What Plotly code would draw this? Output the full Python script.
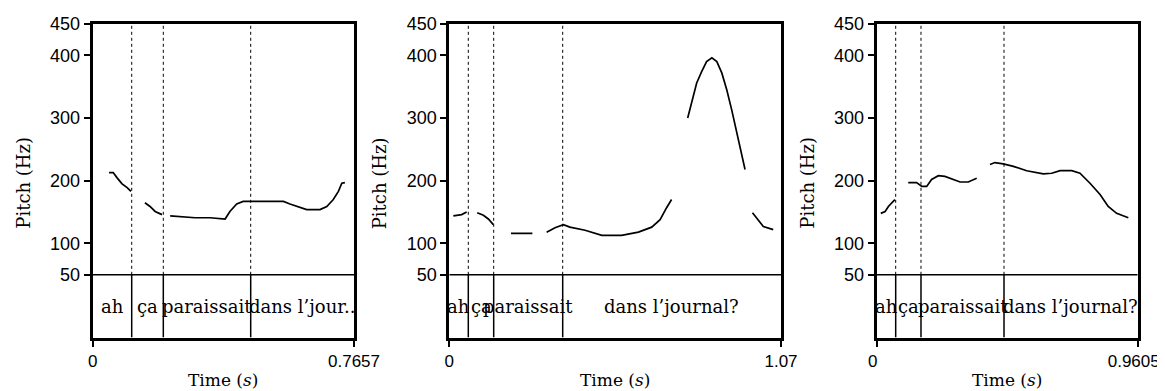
import plotly.graph_objects as go

# ---------------- data ----------------
durations = [0.7657, 1.07, 0.9605]
duration_labels = ["0.7657", "1.07", "0.9605"]

p1_bounds = [0.1143, 0.2069, 0.463]
p2_bounds = [0.0613, 0.1432, 0.3658]
p3_bounds = [0.0699, 0.163, 0.4685]

p1_words = ["ah", "ça", "paraissait", "dans l’jour.."]
p2_words = ["ah", "ça", "paraissait", "dans l’journal?"]
p3_words = ["ah", "ça", "paraissait", "dans l’journal?"]

p1_time = [0.048, 0.060, 0.071, 0.086, 0.101, 0.112, None,
           0.153, 0.168, 0.183, 0.194, 0.203, None,
           0.227, 0.256, 0.300, 0.344, 0.388, 0.402, 0.422, 0.441, 0.461,
           0.559, 0.578, 0.607, 0.627, 0.666, 0.686, 0.705, 0.720, 0.730, 0.739]
p1_pitch = [213, 213, 205, 195, 189, 183, None,
            165, 159, 151, 148, 146, None,
            144, 143, 141, 141, 139, 151, 163, 167, 167,
            167, 163, 157, 154, 154, 159, 170, 183, 196, 197]

p2_time = [0.013, 0.040, 0.056, None,
           0.090, 0.110, 0.126, 0.142, None,
           0.199, 0.268, None,
           0.314, 0.341, 0.368, 0.389, 0.438, 0.492, 0.556, 0.610, 0.653, 0.680, 0.701, 0.717, None,
           0.769, 0.782, 0.798, 0.814, 0.830, 0.847, 0.863, 0.879, 0.895, 0.911, 0.927, 0.943, 0.954, None,
           0.978, 0.997, 1.013, 1.045]
p2_pitch = [144, 146, 150, None,
            149, 145, 139, 130, None,
            116, 116, None,
            118, 125, 130, 126, 121, 113, 113, 118, 126, 138, 157, 170, None,
            300, 324, 356, 374, 390, 396, 390, 372, 345, 313, 279, 241, 218, None,
            149, 138, 127, 122]

p3_time = [0.015, 0.031, 0.043, 0.055, 0.067, None,
           0.116, 0.147, 0.166, 0.184, 0.202, 0.227, 0.251, 0.276, 0.307, 0.337, 0.368, None,
           0.417, 0.435, 0.466, 0.503, 0.552, 0.613, 0.644, 0.675, 0.718, 0.748, 0.785,
           0.822, 0.852, 0.883, 0.926]
p3_pitch = [148, 151, 159, 165, 170, None,
            197, 197, 191, 191, 202, 208, 207, 203, 198, 198, 204, None,
            226, 229, 227, 223, 216, 211, 212, 216, 216, 212, 196,
            178, 159, 148, 141]

y_ticks = [50, 100, 200, 300, 400, 450]
y_range = [-50, 450]
tier_top = 50
tier_mid = 0

# ---------------- layout helpers ----------------
W, H = 1165, 391
OFF = 8  # page body margin offset
x_domains_px = [(92.7, 354.0), (449.3, 781.0), (876.7, 1137.7)]
x_label_shift = [0, 0, -4]
y_top_px, y_bot_px = 24.0, 337.5


def px_x(px):
    return (px - OFF) / W


def px_y(py):
    return 1 - (py - OFF) / H


panels = [
    (p1_time, p1_pitch, p1_bounds, p1_words),
    (p2_time, p2_pitch, p2_bounds, p2_words),
    (p3_time, p3_pitch, p3_bounds, p3_words),
]

SERIF = "DejaVu Serif, Liberation Serif, serif"
SANS = "Liberation Sans, Arial, sans-serif"

fig = go.Figure()
shapes = []
annotations = []

for i, (t, p, bounds, words) in enumerate(panels):
    n = "" if i == 0 else str(i + 1)
    xa, ya = "x" + n, "y" + n
    dur = durations[i]
    fig.add_trace(go.Scatter(
        x=t, y=p, mode="lines", xaxis=xa, yaxis=ya,
        line=dict(color="black", width=1.7), connectgaps=False,
        showlegend=False, hoverinfo="skip"))

    x0, x1 = x_domains_px[i]
    fig.update_layout(**{
        "xaxis" + n: dict(
            domain=[px_x(x0), px_x(x1)], range=[0, dur], anchor=ya,
            tickvals=[0, dur], ticktext=["0", duration_labels[i]],
            ticks="outside", ticklen=6, tickwidth=1.5, tickcolor="black",
            ticklabelshift=x_label_shift[i],
            showline=True, linecolor="black", linewidth=3, mirror=True,
            showgrid=False, zeroline=False, automargin=False,
            tickfont=dict(family=SANS, size=17, color="black")),
        "yaxis" + n: dict(
            domain=[px_y(y_bot_px), px_y(y_top_px)], range=y_range, anchor=xa,
            tickvals=y_ticks, ticktext=[str(v) for v in y_ticks],
            ticks="outside", ticklen=6, tickwidth=1.5, tickcolor="black",
            showline=True, linecolor="black", linewidth=3, mirror=True,
            showgrid=False, zeroline=False, automargin=False,
            tickfont=dict(family=SANS, size=18, color="black")),
    })

    # tier separator
    shapes.append(dict(type="line", xref=xa, yref=ya, x0=0, x1=dur,
                       y0=tier_top, y1=tier_top, line=dict(color="black", width=1.5)))
    for b in bounds:
        shapes.append(dict(type="line", xref=xa, yref=ya, x0=b, x1=b,
                           y0=tier_top, y1=y_range[1],
                           line=dict(color="black", width=1, dash="dot")))
        shapes.append(dict(type="line", xref=xa, yref=ya, x0=b, x1=b,
                           y0=y_range[0], y1=tier_top,
                           line=dict(color="black", width=1.5)))
    edges = [0] + list(bounds) + [dur]
    for k, w in enumerate(words):
        annotations.append(dict(
            x=(edges[k] + edges[k + 1]) / 2, y=tier_mid, xref=xa, yref=ya,
            text=w, showarrow=False, xanchor="center", yanchor="middle",
            font=dict(family=SERIF, size=18, color="black")))

    # axis titles
    annotations.append(dict(
        x=px_x((x0 + x1) / 2), y=px_y(380), xref="paper", yref="paper",
        text="Time (<i>s</i>)", showarrow=False, xanchor="center", yanchor="middle",
        font=dict(family=SERIF, size=17, color="black")))
    annotations.append(dict(
        x=px_x(x0 - 70), y=px_y(183), xref="paper", yref="paper",
        text="Pitch (Hz)", showarrow=False, textangle=-90,
        xanchor="center", yanchor="middle",
        font=dict(family=SERIF, size=18, color="black")))

fig.update_layout(
    width=W, height=H,
    margin=dict(l=0, r=0, t=0, b=0),
    paper_bgcolor="white", plot_bgcolor="white",
    shapes=shapes, annotations=annotations,
    showlegend=False,
)

fig.write_html("out.html")
